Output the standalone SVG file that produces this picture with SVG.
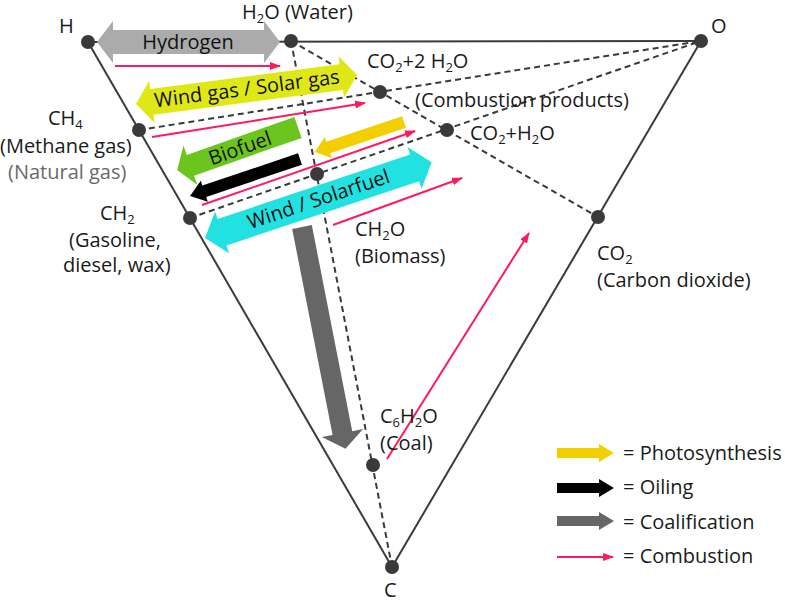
<svg xmlns="http://www.w3.org/2000/svg" width="785" height="601" viewBox="0 0 785 601">
<defs>
<style>
.edge{stroke:#3a3a3a;stroke-width:2;fill:none}
.dash{stroke:#3a3a3a;stroke-width:2;fill:none;stroke-dasharray:6 4}
.dot{fill:#3a3a3a}
.lbl{font-family:"Open Sans","Noto Sans","Liberation Sans",sans-serif;font-size:20px;fill:#1a1a1a}
.sub{font-size:13px}
.grey{fill:#6a6a6a}
.atext{font-family:"Open Sans","Noto Sans","Liberation Sans",sans-serif;font-size:20px;fill:#111;text-anchor:middle}
.comb{stroke:#ff1a5e;stroke-width:2;fill:none;marker-end:url(#pinkhead)}
</style>
<marker id="pinkhead" markerUnits="userSpaceOnUse" markerWidth="11" markerHeight="8" refX="10" refY="4" orient="auto">
<path d="M0,0 L11,4 L0,8 z" fill="#ff1a5e"/>
</marker>
</defs>
<rect width="785" height="601" fill="#fff"/>

<g id="connectors">
<line class="edge" x1="88" y1="42" x2="701" y2="41"/>
<line class="edge" x1="88" y1="42" x2="392" y2="567"/>
<line class="edge" x1="701" y1="41" x2="392" y2="567"/>
<line class="dash" x1="291" y1="41" x2="392" y2="567"/>
<line class="dash" x1="291" y1="41" x2="598" y2="217"/>
<line class="dash" x1="139" y1="130" x2="701" y2="41"/>
<line class="dash" x1="190" y1="218" x2="701" y2="41"/>
</g>

<g id="process-arrows">
<g id="arrow-hydrogen">
<polygon fill="#ababab" transform="translate(97,42)" points="0,0 16,-21 16,-12 167,-12 167,-21 183,0 167,21 167,12 16,12 16,21"/>
<text class="atext" x="188" y="49">Hydrogen</text>
</g>
<g id="arrow-windgas" transform="translate(136,104) rotate(-7.48)">
<polygon fill="#e0e716" points="0,0 16,-21 16,-13 207,-13 207,-21 223,0 207,21 207,13 16,13 16,21"/>
<text class="atext" x="112" y="6">Wind gas / Solar gas</text>
</g>
<g id="arrow-biofuel">
<polygon fill="#6cc51e" transform="translate(298,127.5) rotate(160.65)" points="0,-11 114,-11 114,-21 128,0 114,21 114,11 0,11"/>
<text class="atext" transform="translate(240,148) rotate(-19.35)" x="0" y="7">Biofuel</text>
</g>
<polygon id="arrow-oiling" fill="#000" transform="translate(300,159) rotate(161.4)" points="0,-6 101,-6 101,-11 116,0 101,11 101,6 0,6"/>
<polygon id="arrow-photosynthesis" fill="#f3cf00" transform="translate(404,122) rotate(161.4)" points="0,-6 80,-6 80,-11 94,0 80,11 80,6 0,6"/>
<g id="arrow-solarfuel" transform="translate(205,238) rotate(-18.5)">
<polygon fill="#22e1e1" points="0,0 18,-22 18,-14 221,-14 221,-22 239,0 221,22 221,14 18,14 18,22"/>
<text class="atext" x="120" y="6">Wind / Solarfuel</text>
</g>
<polygon id="arrow-coalification" fill="#666" transform="translate(302,227) rotate(78.9)" points="0,-10 210,-10 210,-21 226,0 210,21 210,10 0,10"/>
</g>

<g id="combustion">
<line class="comb" x1="115" y1="66" x2="280" y2="66"/>
<line class="comb" x1="152" y1="137" x2="365" y2="103"/>
<line class="comb" x1="202" y1="205" x2="415" y2="131"/>
<line class="comb" x1="333" y1="225" x2="462" y2="178"/>
<line class="comb" x1="387" y1="459" x2="529" y2="233"/>
</g>

<g id="node-H"><circle class="dot" cx="88" cy="42" r="7"/><text class="lbl" x="59" y="33">H</text></g>
<g id="node-H2O"><circle class="dot" cx="291" cy="41" r="7"/><text class="lbl" x="242" y="19">H<tspan class="sub" dy="4">2</tspan><tspan dy="-4">O (Water)</tspan></text></g>
<g id="node-O"><circle class="dot" cx="701" cy="41" r="7"/><text class="lbl" x="711" y="33">O</text></g>
<g id="node-C"><circle class="dot" cx="392" cy="567" r="7"/><text class="lbl" x="384" y="597">C</text></g>
<g id="node-CO2-2H2O"><circle class="dot" cx="380" cy="92" r="7"/><text class="lbl" x="367" y="68">CO<tspan class="sub" dy="4">2</tspan><tspan dy="-4">+2 H</tspan><tspan class="sub" dy="4">2</tspan><tspan dy="-4">O</tspan></text><text class="lbl" x="415" y="107">(Combustion products)</text></g>
<g id="node-CO2-H2O"><circle class="dot" cx="447" cy="130" r="7"/><text class="lbl" x="470" y="140">CO<tspan class="sub" dy="4">2</tspan><tspan dy="-4">+H</tspan><tspan class="sub" dy="4">2</tspan><tspan dy="-4">O</tspan></text></g>
<g id="node-CH4"><circle class="dot" cx="139" cy="130" r="7"/><text class="lbl" x="48" y="125">CH<tspan class="sub" dy="4">4</tspan></text><text class="lbl" x="0" y="153">(Methane gas)</text><text class="lbl grey" x="8" y="179">(Natural gas)</text></g>
<g id="node-CH2"><circle class="dot" cx="190" cy="218" r="7"/><text class="lbl" x="100" y="220">CH<tspan class="sub" dy="4">2</tspan></text><text class="lbl" x="69" y="247">(Gasoline,</text><text class="lbl" x="63" y="272">diesel, wax)</text></g>
<g id="node-CH2O"><circle class="dot" cx="317" cy="174" r="7"/><text class="lbl" x="355" y="236">CH<tspan class="sub" dy="4">2</tspan><tspan dy="-4">O</tspan></text><text class="lbl" x="355" y="263">(Biomass)</text></g>
<g id="node-CO2"><circle class="dot" cx="598" cy="217" r="7"/><text class="lbl" x="597" y="260">CO<tspan class="sub" dy="4">2</tspan></text><text class="lbl" x="597" y="287">(Carbon dioxide)</text></g>
<g id="node-C6H2O"><circle class="dot" cx="373" cy="465" r="7"/><text class="lbl" x="380" y="423">C<tspan class="sub" dy="4">6</tspan><tspan dy="-4">H</tspan><tspan class="sub" dy="4">2</tspan><tspan dy="-4">O</tspan></text><text class="lbl" x="380" y="450">(Coal)</text></g>

<g id="legend">
<polygon fill="#f3cf00" transform="translate(557,453)" points="0,-5 42,-5 42,-9 57,0 42,9 42,5 0,5"/>
<text class="lbl" x="623" y="460">= Photosynthesis</text>
<polygon fill="#000" transform="translate(557,488)" points="0,-5 42,-5 42,-9 57,0 42,9 42,5 0,5"/>
<text class="lbl" x="623" y="494">= Oiling</text>
<polygon fill="#666" transform="translate(557,521)" points="0,-5 42,-5 42,-9 57,0 42,9 42,5 0,5"/>
<text class="lbl" x="623" y="529">= Coalification</text>
<line class="comb" x1="557" y1="557" x2="613" y2="557"/>
<text class="lbl" x="623" y="563">= Combustion</text>
</g>
</svg>
